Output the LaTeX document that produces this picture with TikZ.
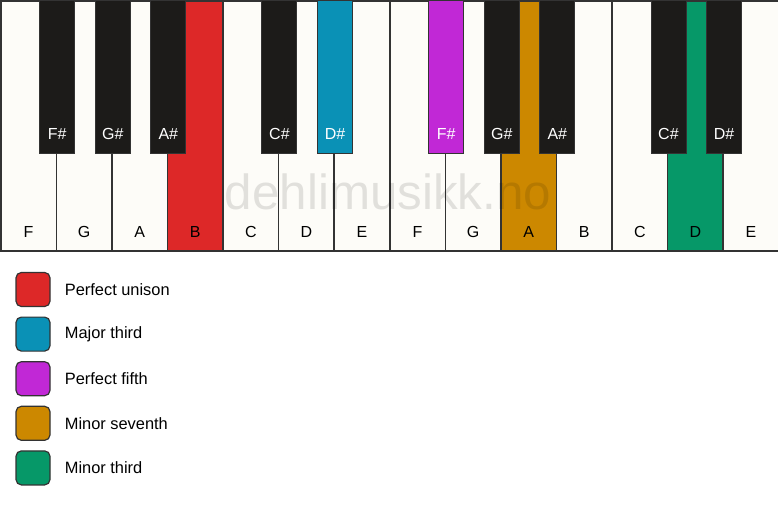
\documentclass[tikz,border=0pt]{standalone}
\usepackage{fontspec}
\setmainfont{Liberation Sans}
\usepackage{tikz}
\usetikzlibrary{calc}
\usetikzlibrary{positioning}

\definecolor{keyivory}{HTML}{FDFCF8}
\definecolor{keyblack}{HTML}{1C1B19}
\definecolor{keyline}{HTML}{333333}
\definecolor{unison}{HTML}{DD2828}
\definecolor{majthird}{HTML}{0A91B6}
\definecolor{fifth}{HTML}{C128D6}
\definecolor{minseventh}{HTML}{CC8800}
\definecolor{minthird}{HTML}{069868}

\tikzset{
    whitekey/.style={draw=keyline, line width=1.2pt, rectangle, inner sep=0pt,
        minimum width=41.68pt, minimum height=187.5pt, anchor=north west},
    blackkey/.style={draw=keyline, line width=0.7pt, rectangle, inner sep=0pt,
        minimum width=26.25pt, minimum height=114.75pt, anchor=north},
    keyname/.style={font=\fontsize{12}{12}\selectfont, inner sep=0pt},
    legendbox/.style={draw=keyline, line width=0.9pt, rounded corners=4pt,
        minimum size=25.5pt, inner sep=0pt},
    legendtext/.style={font=\fontsize{12.3}{12.3}\selectfont, inner sep=0pt}
}

\begin{document}
\begin{tikzpicture}[x=0.75pt,y=-0.75pt]
    \useasboundingbox (0,0) rectangle (778,506);
    % white keys
    \foreach \n/\c [count=\i from 0] in {F/keyivory,G/keyivory,A/keyivory,B/unison,
            C/keyivory,D/keyivory,E/keyivory,F/keyivory,G/keyivory,A/minseventh,
            B/keyivory,C/keyivory,D/minthird,E/keyivory} {
        \node[whitekey, fill=\c] (w\i) at ({\i*778/14},0) {};
        \node[keyname] (wn\i) at ($(w\i.south)+(0,-20)$) {\n};
    }
    % black keys
    \foreach \n/\c/\k in {F\#/keyblack/0,G\#/keyblack/1,A\#/keyblack/2,
            C\#/keyblack/4,D\#/majthird/5,F\#/fifth/7,G\#/keyblack/8,
            A\#/keyblack/9,C\#/keyblack/11,D\#/keyblack/12} {
        \node[blackkey, fill=\c] (b\k) at (w\k.north east) {};
        \node[keyname, text=white] (bn\k) at ($(b\k.south)+(0,-20)$) {\n};
    }
    % watermark
    \node[font=\fontsize{37}{37}\selectfont, text=black, opacity=0.11] (mark)
        at (388,192) {dehlimusikk.no};
    % legend
    \foreach \t/\c [count=\j from 0] in {Perfect unison/unison,Major third/majthird,
            Perfect fifth/fifth,Minor seventh/minseventh,Minor third/minthird} {
        \node[legendbox, fill=\c] (l\j) at (33,{289.5+\j*44.6}) {};
        \node[legendtext, right=10.5pt of l\j] (lt\j) {\t};
    }
\end{tikzpicture}
\end{document}
